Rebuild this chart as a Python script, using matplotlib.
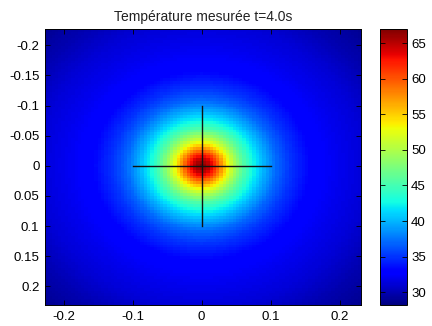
import numpy as np
import matplotlib
matplotlib.use("Agg")
import matplotlib.pyplot as plt
import matplotlib.ticker as mticker

# Radial temperature profile (distance from centre, °C)
profile_r = [0.0, 0.01, 0.02, 0.03, 0.04, 0.05, 0.06, 0.075, 0.09, 0.11, 0.13, 0.16, 0.20, 0.24, 0.28, 0.33]
profile_T = [67.0, 65.0, 61.5, 57.0, 52.5, 49.0, 46.0, 42.7, 40.0, 37.0, 35.0, 33.0, 32.0, 31.2, 30.0, 28.8]
x_limits = [-0.227, 0.231]
y_limits = [-0.227, 0.231]
n_cells = 96
c_limits = [28.2, 67.0]
x_ticks = [-0.2, -0.1, 0, 0.1, 0.2]
y_ticks = [-0.2, -0.15, -0.1, -0.05, 0, 0.05, 0.1, 0.15, 0.2]
c_ticks = [30, 35, 40, 45, 50, 55, 60, 65]
title = "Température mesurée t=4.0s"

xc = np.linspace(x_limits[0], x_limits[1], n_cells)
yc = np.linspace(y_limits[0], y_limits[1], n_cells)
X, Y = np.meshgrid(xc, yc)
R = np.sqrt(X**2 + Y**2)
Z = np.interp(R, profile_r, profile_T)

plt.rcParams['font.family'] = ['Liberation Sans', 'DejaVu Sans']
fig = plt.figure(figsize=(4.32, 3.26), dpi=100)
ax = fig.add_axes([45/432, 21/326, 316/432, 276/326])
cax = fig.add_axes([380/432, 21/326, 27/432, 276/326])

im = ax.imshow(Z, extent=[x_limits[0], x_limits[1], y_limits[1], y_limits[0]],
               aspect='auto', cmap='jet', vmin=c_limits[0], vmax=c_limits[1],
               interpolation='nearest')
ax.plot([-0.1, 0.1], [0, 0], color='#111111', lw=1)
ax.plot([0, 0], [-0.1, 0.1], color='#111111', lw=1)
ax.set_xlim(x_limits)
ax.set_ylim(y_limits[1], y_limits[0])

fmt = mticker.FuncFormatter(lambda v, p: ('%g' % round(v, 4)))
ax.set_xticks(x_ticks)
ax.set_yticks(y_ticks)
ax.xaxis.set_major_formatter(fmt)
ax.yaxis.set_major_formatter(fmt)
ax.tick_params(direction='in', length=3.5, width=0.6, top=True, right=True,
               labelsize=9.5, colors='black', pad=4)
for s in ax.spines.values():
    s.set_linewidth(0.7)
ax.set_title(title, fontsize=10, pad=6, color='#222222')

cb = fig.colorbar(im, cax=cax)
cb.set_ticks(c_ticks)
cax.tick_params(direction='in', length=3.5, width=0.6, left=True, right=True,
                labelsize=9.5, pad=3)
cb.outline.set_linewidth(0.7)

fig.savefig("out.png", dpi=100)
